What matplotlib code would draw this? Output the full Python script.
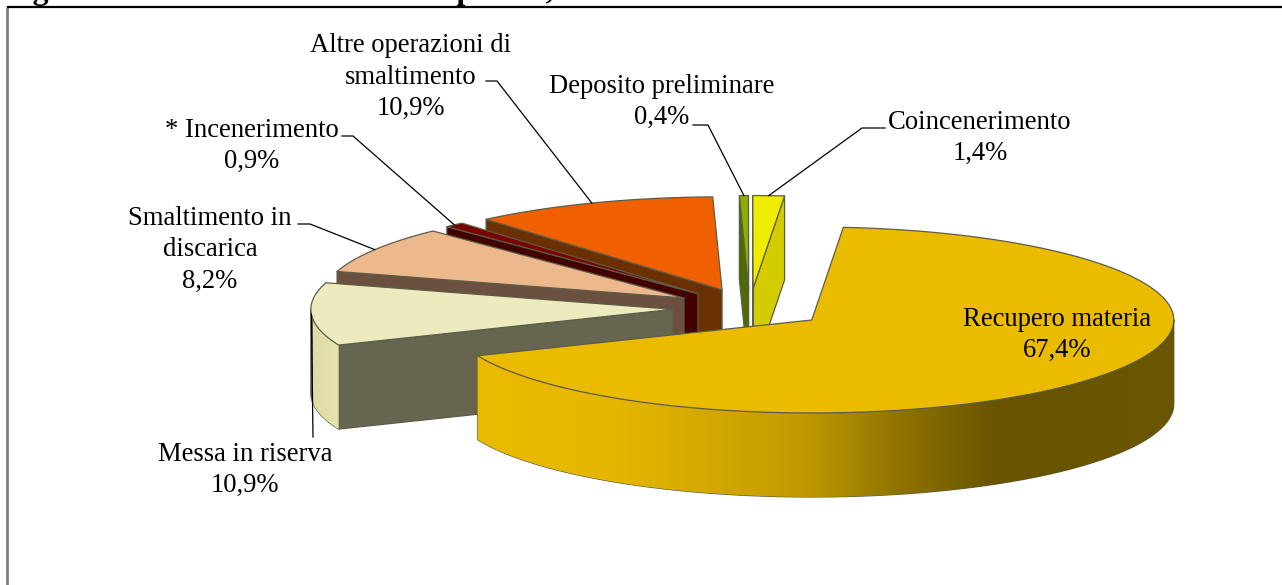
import numpy as np
import matplotlib
matplotlib.use('Agg')
import matplotlib.pyplot as plt
from matplotlib.colors import LinearSegmentedColormap
from matplotlib.patches import Polygon

plt.rcParams['font.family'] = ['Liberation Serif', 'DejaVu Serif']

# %% Data, clockwise from the first slice
categories = ['Recupero materia', 'Messa in riserva', 'Smaltimento in\ndiscarica', '* Incenerimento',
              'Altre operazioni di\nsmaltimento', 'Deposito preliminare', 'Coincenerimento']
shares = [67.4, 10.9, 8.2, 0.9, 10.9, 0.4, 1.4]

top_colors = ['#ebbb00', '#edebbd', '#edb98c', '#7b0000', '#f06000', '#8db000', '#f0ec00']
wall_colors = ['#665200', '#666650', '#6b5040', '#420000', '#6b3000', '#4f6a00', '#d2cc00']
rim_stops = {0: [(477, '#ebbb00'), (610, '#e6b700'), (800, '#c29b00'), (900, '#8f7300'), (1000, '#675300'), (1174, '#6b5700')],
             1: [(313, '#dedba6'), (341, '#e6e3b0')]}

# label centres and leader start points, in figure pixels
label_xy = [(1057, 335), (245, 470), (210, 250), (252, 146), (411, 77), (662, 102), (980, 138)]
leader_start = [None, [(313, 437)], [(298, 224), (310, 224)], [(342, 136), (353, 136)],
                [(486, 81), (497, 81)], [(693, 125), (708, 125)], [(885, 128), (862, 128)]]

# %% Pie geometry in pixels
cx, cy = 749.7, 308.3
rx, ry = 362, 93
depth = 84
explode = 0.2125
start_angle = 85

fig = plt.figure(figsize=(12.82, 5.85), dpi=100)
ax = fig.add_axes([0, 0, 1, 1])


def arc(apex, a, b, n=120):
    t = np.radians(np.linspace(a, b, n))
    return np.column_stack([apex[0] + rx * np.cos(t), apex[1] - ry * np.sin(t)])


hi_angles = start_angle - np.cumsum([0] + shares[:-1]) / sum(shares) * 360
lo_angles = hi_angles - np.array(shares) / sum(shares) * 360
# keep angles in one turn above -180 so the front half is easy to find
shift = np.where(lo_angles < -180, 360, 0)
hi_angles = hi_angles + shift
lo_angles = lo_angles + shift
mid_angles = (hi_angles + lo_angles) / 2
apexes = [(cx + explode * rx * np.cos(np.radians(m)), cy - explode * ry * np.sin(np.radians(m))) for m in mid_angles]
down = np.array([0, depth])

# back slices first
order = np.argsort(-np.sin(np.radians(mid_angles)))
edge = dict(edgecolor='#5c5c48', linewidth=0.9, joinstyle='round')
z = 2
for i in order:
    apex = np.array(apexes[i])
    lo, hi = lo_angles[i], hi_angles[i]

    # flat cut faces that look towards the viewer
    for a, visible in [(lo, np.cos(np.radians(lo)) > 0), (hi, np.cos(np.radians(hi)) < 0)]:
        if visible:
            p = arc(apex, a, a, 1)[0]
            ax.add_patch(Polygon([apex, p, p + down, apex + down], facecolor=wall_colors[i], zorder=z, **edge))
            z += 1

    # outer rim, front half only
    for w in (-180, 180):
        rim_a, rim_b = max(lo, w), min(hi, w + 180)
        if rim_b <= rim_a:
            continue
        top_arc = arc(apex, rim_a, rim_b)
        rim = Polygon(np.vstack([top_arc, (top_arc + down)[::-1]]), facecolor=wall_colors[i], zorder=z, **edge)
        ax.add_patch(rim)
        if i in rim_stops:
            xs, cols = zip(*rim_stops[i])
            pos = (np.array(xs) - xs[0]) / (xs[-1] - xs[0])
            cmap = LinearSegmentedColormap.from_list('rim', list(zip(pos, cols)))
            im = ax.imshow(np.linspace(0, 1, 512)[None, :], cmap=cmap, aspect='auto', zorder=z,
                           extent=(xs[0], xs[-1], top_arc[:, 1].max() + depth, top_arc[:, 1].min()))
            im.set_clip_path(rim)
        z += 1

    # top surface
    ax.add_patch(Polygon(np.vstack([[apex], arc(apex, lo, hi, 240)]), facecolor=top_colors[i], zorder=z, **edge))
    z += 1

# %% Leaders end on the middle of each slice's outer arc
for i, start in enumerate(leader_start):
    if start is None:
        continue
    end = arc(apexes[i], mid_angles[i], mid_angles[i], 1)[0]
    pts = np.vstack([start, end])
    ax.plot(pts[:, 0], pts[:, 1], color='black', lw=0.9, zorder=z, solid_joinstyle='miter')

for name, share, (x, y) in zip(categories, shares, label_xy):
    ax.text(x, y, name + '\n' + f'{share:.1f}'.replace('.', ',') + '%', ha='center', va='center',
            ma='center', fontsize=19.2, color='black', linespacing=1.32, zorder=z + 1)

# %% Frame and the cut-off title above it
ax.plot([7, 7], [7, 585], color='#808080', lw=2, zorder=1, solid_capstyle='butt')
ax.plot([7, 1282], [7, 7], color='black', lw=1.6, zorder=1, solid_capstyle='butt')
ax.text(4, -1.5, 'Figura 3.10: Gestione dei rifiuti speciali, anno 2014', fontsize=23, fontweight='bold',
        ha='left', va='baseline', color='black', clip_on=False)

ax.set_xlim(0, 1282)
ax.set_ylim(585, 0)
ax.axis('off')
fig.savefig('out.png', dpi=100)
